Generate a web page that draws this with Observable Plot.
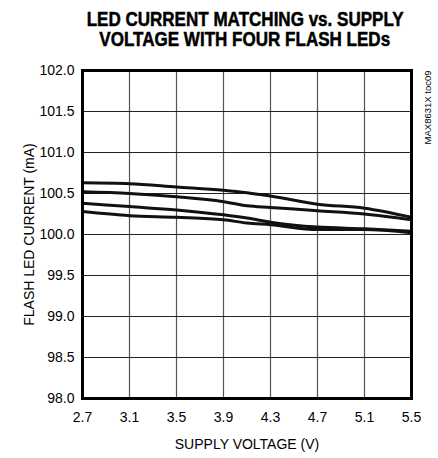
<!DOCTYPE html>
<html>
<head>
<meta charset="utf-8">
<script src="https://cdn.jsdelivr.net/npm/d3@7"></script>
<script src="https://cdn.jsdelivr.net/npm/@observablehq/plot@0.6"></script>
<style>
  html, body { margin: 0; padding: 0; background: #fff; }
  #wrap { width: 438px; height: 458px; position: relative; }
  #title {
    height: 55px; box-sizing: border-box; padding-top: 9px; padding-left: 52px;
    font-family: "Liberation Sans", Arial, sans-serif;
    font-weight: bold; font-size: 20px; line-height: 20px;
    text-align: center; color: #000; white-space: nowrap;
    -webkit-text-stroke: 0.5px #000;
  }
  #title span { display: inline-block; transform-origin: center center; }
  svg { display: block; }
</style>
</head>
<body>
<div id="wrap">
  <div id="title"><span id="t1">LED CURRENT MATCHING vs. SUPPLY</span><br><span id="t2">VOLTAGE WITH FOUR FLASH LEDs</span></div>
  <div id="chart"></div>
</div>
<script>
const voltage = [2.7, 3.1, 3.5, 3.9, 4.1, 4.3, 4.7, 5.1, 5.5];
const led1 = [100.63, 100.62, 100.58, 100.54, 100.51, 100.47, 100.37, 100.32, 100.21];
const led2 = [100.52, 100.50, 100.46, 100.40, 100.35, 100.33, 100.29, 100.25, 100.18];
const led3 = [100.38, 100.34, 100.30, 100.24, 100.20, 100.15, 100.09, 100.07, 100.04];
const led4 = [100.28, 100.23, 100.21, 100.18, 100.14, 100.12, 100.06, 100.06, 100.02];
const xTicks = [2.7, 3.1, 3.5, 3.9, 4.3, 4.7, 5.1, 5.5];
const yTicks = [98.0, 98.5, 99.0, 99.5, 100.0, 100.5, 101.0, 101.5, 102.0];
const series = [["LED1", led1], ["LED2", led2], ["LED3", led3], ["LED4", led4]];

// condense the title to the reference's width
const t1 = document.getElementById("t1");
const w1 = t1.getBoundingClientRect().width;
const s = 317 / w1;
t1.style.transform = `scaleX(${s})`;
document.getElementById("t2").style.transform = `scaleX(${s})`;

const rows = series.flatMap(([name, vals]) => vals.map((v, i) => ({name, v: voltage[i], i: v})));
const font = '"Liberation Sans", Arial, sans-serif';

const plot = Plot.plot({
  width: 438,
  height: 403,
  marginTop: 15,
  marginBottom: 60,
  marginLeft: 82,
  marginRight: 27,
  style: {fontFamily: font, fontSize: "14px", color: "#000", background: "#fff"},
  x: {domain: [2.7, 5.5], ticks: xTicks, tickFormat: d => d.toFixed(1), tickSize: 0, tickPadding: 14,
      label: "SUPPLY VOLTAGE (V)", labelAnchor: "center", labelArrow: "none", labelOffset: 50},
  y: {domain: [98, 102], ticks: yTicks, tickFormat: d => d.toFixed(1), tickSize: 0, tickPadding: 8,
      label: "FLASH LED CURRENT (mA)", labelAnchor: "center", labelArrow: "none", labelOffset: 58},
  marks: [
    Plot.ruleX(xTicks, {stroke: "#555", strokeWidth: 1.2}),
    Plot.ruleY(yTicks, {stroke: "#222", strokeWidth: 1.1}),
    Plot.line(rows, {x: "v", y: "i", z: "name", stroke: "#111", strokeWidth: 3, curve: "monotone-x"}),
    Plot.frame({stroke: "#000", strokeWidth: 3}),
    Plot.text(["MAX8631X toc09"], {frameAnchor: "top-right", rotate: -90, textAnchor: "end",
      dx: 13, dy: 0, fontSize: 9.5, fill: "#000"})
  ]
});
document.getElementById("chart").appendChild(plot);
</script>
</body>
</html>
